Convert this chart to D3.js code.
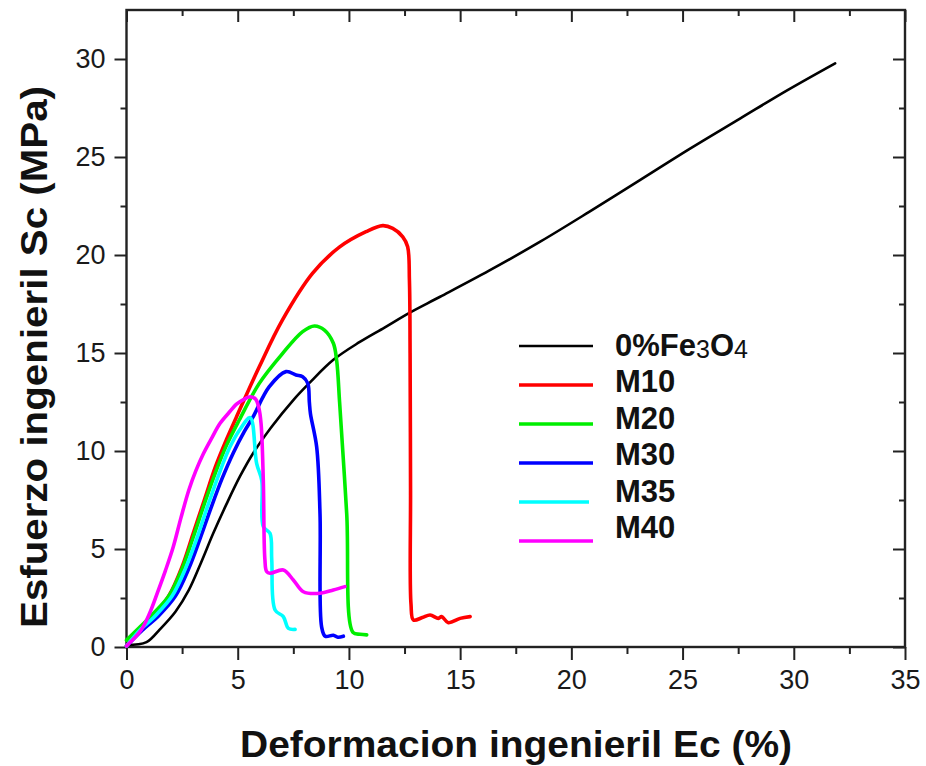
<!DOCTYPE html>
<html>
<head>
<meta charset="utf-8">
<script src="https://cdn.jsdelivr.net/npm/d3@7"></script>
<style>
  html, body { margin: 0; padding: 0; background: #fff; }
  svg { display: block; font-family: Arial, "Liberation Sans", sans-serif; }
</style>
</head>
<body>
<svg id="chart" width="926" height="766"></svg>
<script>
// Stress–strain curves: [strain %, stress MPa]
const seriesNames = ["0%Fe3O4", "M10", "M20", "M30", "M35", "M40"];
const seriesColors = ["#000000", "#ff0000", "#00ee00", "#0000ff", "#00ffff", "#ff00ff"];

const plain = [[0,0.1],[0.9,0.25],[1.5,0.9],[2.2,1.8],[2.8,2.9],[3.35,4.3],[3.9,5.8],[4.5,7.3],[5.1,8.7],[5.7,9.9],[6.5,11.2],[7.5,12.6],[8.25,13.5],[9.3,14.65],[10.47,15.55],[11.6,16.3],[12.72,17.05],[14.1,17.87],[16.3,19.2],[18.6,20.68],[20.8,22.2],[23.1,23.83],[25.3,25.4],[27.6,26.97],[29.7,28.4],[31.86,29.78]];

const m10 = [[0,0.05],[0.5,0.8],[1.2,1.6],[1.9,2.6],[2.5,4.1],[3.0,5.8],[3.5,7.5],[4.0,9.2],[4.5,10.6],[4.93,11.7],[5.97,14.3],[7.02,16.7],[8.37,19.07],[9.57,20.4],[10.77,21.19],[11.52,21.5],[11.97,21.36],[12.42,20.93],[12.64,20.42],[12.72,18.7],[12.75,15],[12.77,8],[12.79,2.2],[12.9,1.38],[13.3,1.5],[13.65,1.63],[14.02,1.46],[14.17,1.55],[14.47,1.24],[15.0,1.46],[15.45,1.55]];

const m20 = [[0,0.35],[0.5,0.9],[1.2,1.7],[1.9,2.6],[2.5,4.0],[3.0,5.6],[3.5,7.3],[4.0,8.9],[4.5,10.3],[5.07,11.58],[5.97,13.45],[7.02,14.98],[7.92,16.09],[8.45,16.38],[8.9,16.17],[9.3,15.5],[9.45,14.6],[9.58,12.5],[9.9,6.8],[10.18,0.75],[10.5,0.65],[10.8,0.62]];

const m30 = [[0,0.05],[0.7,0.85],[1.45,1.6],[2.2,2.6],[2.8,4.0],[3.3,5.5],[3.8,7.1],[4.3,8.6],[4.8,9.9],[5.3,11.0],[5.67,11.7],[6.42,13.28],[7.17,14.05],[7.62,13.88],[7.92,13.79],[8.15,13.45],[8.22,12.5],[8.27,11.9],[8.55,10.2],[8.7,6.8],[8.77,1.04],[8.93,0.55],[9.3,0.6],[9.5,0.5],[9.75,0.55]];

const m35 = [[0,0.05],[0.6,0.85],[1.3,1.6],[2.05,2.6],[2.65,4.0],[3.15,5.5],[3.65,7.2],[4.15,8.8],[4.65,10.2],[5.1,11.1],[5.56,11.7],[5.85,9.37],[6.08,8.5],[6.15,6.14],[6.45,5.8],[6.53,4.44],[6.68,1.89],[7.05,1.55],[7.28,0.95],[7.58,0.9]];

const m40 = [[0,0.05],[0.65,0.85],[1.05,1.75],[1.4,2.8],[1.75,3.9],[2.1,5.1],[2.45,6.6],[2.8,8.0],[3.12,9.0],[3.45,9.85],[3.85,10.7],[4.2,11.4],[4.6,11.95],[4.96,12.4],[5.3,12.65],[5.55,12.77],[5.8,12.65],[5.95,12.2],[6.05,11.4],[6.15,8.52],[6.22,4.5],[6.3,3.85],[6.45,3.76],[7.05,3.93],[7.5,3.42],[7.95,2.82],[8.7,2.74],[9.3,2.91],[9.82,3.08]];

const seriesData = [plain, m10, m20, m30, m35, m40];

const xTicks = [0, 5, 10, 15, 20, 25, 30, 35];
const yTicks = [0, 5, 10, 15, 20, 25, 30];
const xLabel = "Deformacion ingenieril Ec (%)";
const yLabel = "Esfuerzo ingenieril Sc (MPa)";

const svg = d3.select("#chart");
const plotLeft = 126.5, plotRight = 905, plotTop = 10, plotBottom = 647;

const x = d3.scaleLinear().domain([0, 35]).range([plotLeft, plotRight]);
const y = d3.scaleLinear().domain([0, 32.5]).range([plotBottom, plotTop]);

const xMinor = d3.range(2.5, 35, 5);
const yMinor = d3.range(2.5, 32.5, 5);

const tickFont = 27;
const axisColor = "#222";

function styleAxis(g) {
  g.select(".domain").remove();
  g.selectAll(".tick line").attr("stroke", axisColor).attr("stroke-width", 2);
  g.selectAll(".tick text").attr("fill", "#1a1a1a").style("font-size", tickFont + "px")
    .style("font-family", "Arial, 'Liberation Sans', sans-serif");
}

// bottom axis: outward ticks with labels
svg.append("g").attr("transform", `translate(0,${plotBottom})`)
  .call(d3.axisBottom(x).tickValues(xTicks).tickSize(13).tickPadding(10).tickFormat(d3.format("d")))
  .call(styleAxis);
svg.append("g").attr("transform", `translate(0,${plotBottom})`)
  .call(d3.axisBottom(x).tickValues(xMinor).tickSize(7).tickFormat(""))
  .call(styleAxis);

// top axis: inward ticks
svg.append("g").attr("transform", `translate(0,${plotTop})`)
  .call(d3.axisBottom(x).tickValues(xTicks).tickSize(12).tickFormat(""))
  .call(styleAxis);
svg.append("g").attr("transform", `translate(0,${plotTop})`)
  .call(d3.axisBottom(x).tickValues(xMinor).tickSize(6).tickFormat(""))
  .call(styleAxis);

// left axis: outward ticks with labels
svg.append("g").attr("transform", `translate(${plotLeft},0)`)
  .call(d3.axisLeft(y).tickValues(yTicks).tickSize(12).tickPadding(9).tickFormat(d3.format("d")))
  .call(styleAxis);
svg.append("g").attr("transform", `translate(${plotLeft},0)`)
  .call(d3.axisLeft(y).tickValues(yMinor).tickSize(6).tickFormat(""))
  .call(styleAxis);

// right axis: inward ticks
svg.append("g").attr("transform", `translate(${plotRight},0)`)
  .call(d3.axisLeft(y).tickValues(yTicks).tickSize(12).tickFormat(""))
  .call(styleAxis);
svg.append("g").attr("transform", `translate(${plotRight},0)`)
  .call(d3.axisLeft(y).tickValues(yMinor).tickSize(6).tickFormat(""))
  .call(styleAxis);

// frame
svg.append("rect")
  .attr("x", plotLeft).attr("y", plotTop)
  .attr("width", plotRight - plotLeft).attr("height", plotBottom - plotTop)
  .attr("fill", "none").attr("stroke", axisColor).attr("stroke-width", 2.4);

// curves
const line = d3.line()
  .x(d => x(d[0]))
  .y(d => y(d[1]))
  .curve(d3.curveCatmullRom.alpha(0.5));

const curveG = svg.append("g");
seriesData.forEach((data, i) => {
  curveG.append("path")
    .datum(data)
    .attr("d", line)
    .attr("fill", "none")
    .attr("stroke", seriesColors[i])
    .attr("stroke-width", i === 0 ? 2.6 : 3.6)
    .attr("stroke-linejoin", "round")
    .attr("stroke-linecap", "round");
});

// axis titles
svg.append("text")
  .attr("x", 516)
  .attr("y", 757)
  .attr("text-anchor", "middle")
  .attr("textLength", 552)
  .attr("lengthAdjust", "spacingAndGlyphs")
  .style("font-size", "37px")
  .style("font-weight", "bold")
  .attr("fill", "#111")
  .text(xLabel);

svg.append("text")
  .attr("transform", `translate(47,357) rotate(-90)`)
  .attr("text-anchor", "middle")
  .attr("textLength", 542)
  .attr("lengthAdjust", "spacingAndGlyphs")
  .style("font-size", "37px")
  .style("font-weight", "bold")
  .attr("fill", "#111")
  .text(yLabel);

// legend
const legend = svg.append("g");
seriesNames.forEach((name, i) => {
  const ly = 346 + i * 39;
  legend.append("line")
    .attr("x1", 519).attr("x2", i === 4 ? 589 : 593)
    .attr("y1", ly).attr("y2", ly)
    .attr("stroke", seriesColors[i])
    .attr("stroke-width", i === 0 ? 2.6 : 3.6);
  const t = legend.append("text")
    .attr("x", 615)
    .attr("y", 356 + i * 36.4)
    .style("font-size", "31px")
    .style("font-weight", "bold")
    .attr("fill", "#111");
  if (name === "0%Fe3O4") {
    t.append("tspan").text("0%Fe");
    t.append("tspan").text("3").style("font-size", "25px").style("font-weight", "normal").attr("dy", 2);
    t.append("tspan").text("O").attr("dy", -2);
    t.append("tspan").text("4").style("font-size", "25px").style("font-weight", "normal").attr("dy", 2);
  } else {
    t.text(name);
  }
});
</script>
</body>
</html>
